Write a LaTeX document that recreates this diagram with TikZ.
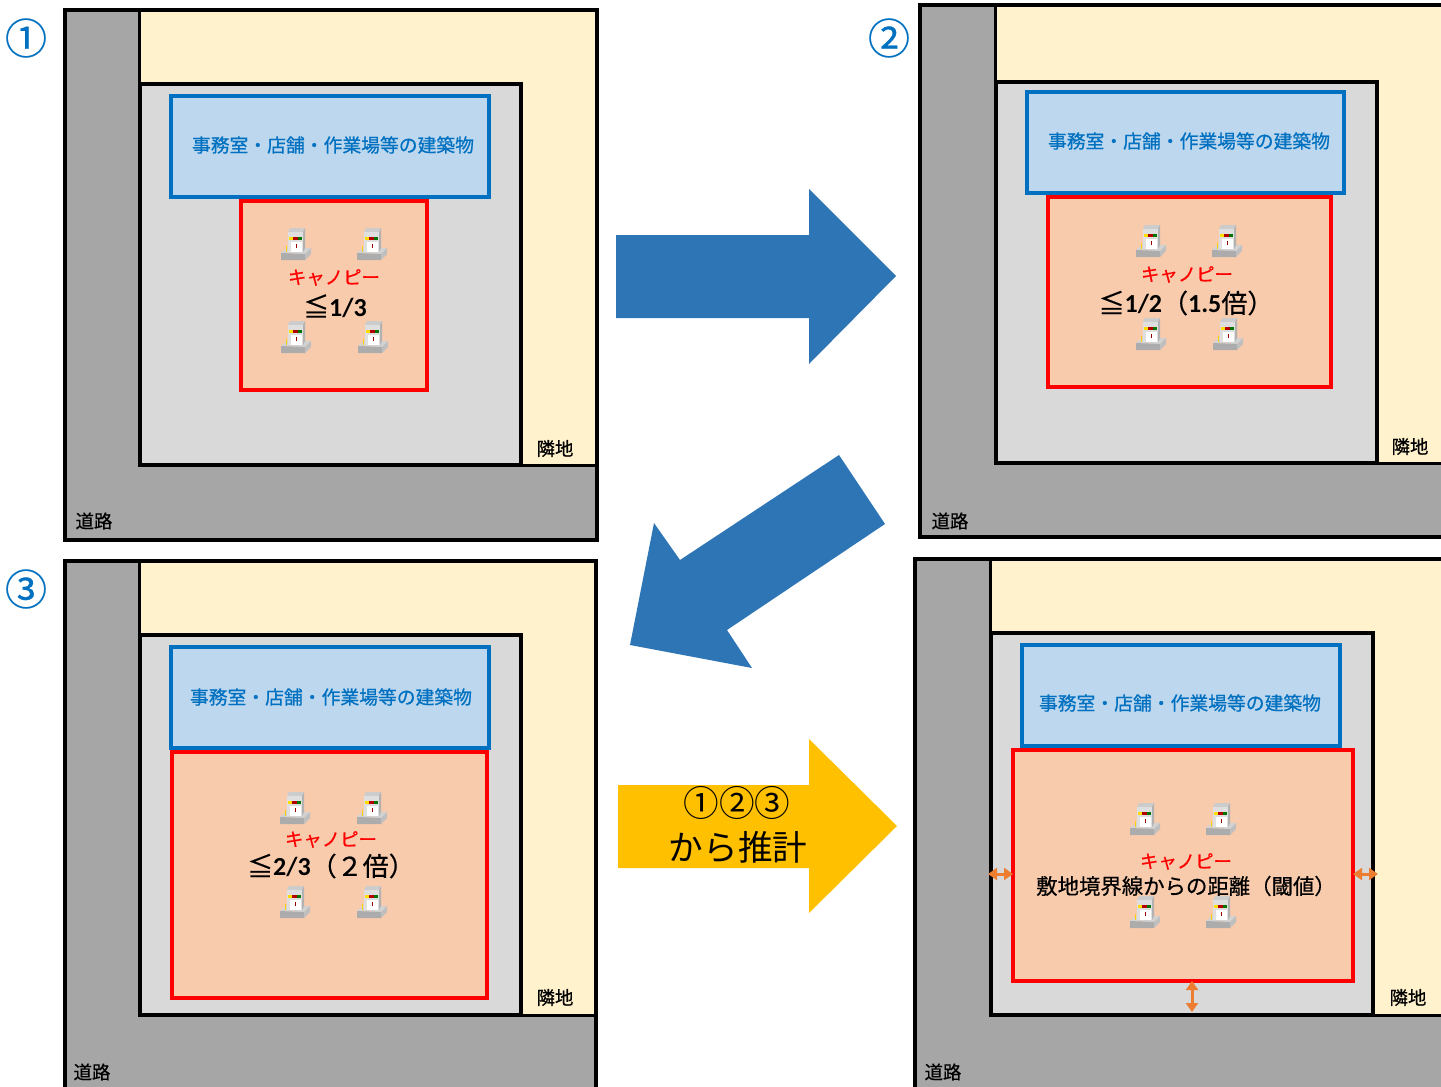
\documentclass[tikz,border=0pt]{standalone}
\usepackage{fontspec}
\setmainfont{Noto Sans CJK JP}
\newfontfamily\numfont{Carlito}
\newfontfamily\labelfont{Noto Sans CJK JP}[FakeBold=0.6]
\usepackage{xcolor}
\definecolor{roadColor}{RGB}{166,166,166}
\definecolor{nextColor}{RGB}{255,242,204}
\definecolor{siteColor}{RGB}{217,217,217}
\definecolor{bldColor}{RGB}{189,215,238}
\definecolor{bldLine}{RGB}{0,112,192}
\definecolor{canopyColor}{RGB}{248,203,173}
\definecolor{moveColor}{RGB}{46,117,182}
\definecolor{estColor}{RGB}{255,192,0}
\definecolor{gapColor}{RGB}{237,125,49}
\usetikzlibrary{arrows.meta}
\tikzset{
  road/.style={draw=black,line width=1.6pt,fill=roadColor},
  nextlot/.style={draw=black,line width=1.5pt,fill=nextColor},
  site/.style={draw=black,line width=1.7pt,fill=siteColor},
  bldbox/.style={draw=bldLine,line width=2pt,fill=bldColor},
  canopybox/.style={draw=red,line width=1.8pt,fill=canopyColor},
  bldtext/.style={text=bldLine,font=\labelfont\fontsize{9.4}{11}\selectfont,inner sep=0pt},
  canopytext/.style={text=red,font=\labelfont\fontsize{9.2}{11}\selectfont,inner sep=0pt},
  ratiotext/.style={text=black,font=\labelfont\fontsize{13}{15}\selectfont,inner sep=0pt},
  lottext/.style={text=black,font=\labelfont\fontsize{9.2}{11}\selectfont,inner sep=0pt},
  numtext/.style={text=bldLine,font=\labelfont\fontsize{21}{23}\selectfont,inner sep=0pt},
  gaparrow/.style={draw=gapColor,line width=1.5pt,{Triangle[width=6pt,length=4.5pt]}-{Triangle[width=6pt,length=4.5pt]}},
  pump/.pic={
    \fill[gray!35!white] (-15,9) -- (-8,3) -- (15,4) -- (9,10) -- cycle;
    \fill[gray!65!white] (-15,9) -- (9,10) -- (9,16) -- (-15,16) -- cycle;
    \fill[gray!50!white] (9,10) -- (15,4) -- (15,10) -- (9,16) -- cycle;
    \fill[gray!40!white] (-8,-12) -- (-6,-16) -- (9,-16) -- (7,-12) -- cycle;
    \fill[gray!60!white] (7,-12) -- (9,-16) -- (9,4) -- (7,8) -- cycle;
    \fill[gray!25!white] (-8,-12) rectangle (7,8);
    \fill[white] (-5,-2) rectangle (6,8);
    \fill[yellow!80!orange] (-7,-7) rectangle (-3,-4);
    \fill[red!70!black] (-3,-7) rectangle (2,-4);
    \fill[green!45!black] (2,-7) rectangle (6,-4);
    \fill[red!60!black] (0,0) rectangle (1,4);
    \fill[yellow!70!orange] (-10,2) rectangle (-9,8);
  }
}
\begin{document}
\begin{tikzpicture}[x=0.5pt,y=-0.5pt]
\useasboundingbox (0,0) rectangle (1441,1087);
% panel 1
\fill[road] (65,10) rectangle (597,540);
\fill[nextlot] (139,10) rectangle (597,465);
\draw[road,fill=none] (65,10) rectangle (597,540);
\draw[site] (140,84) rectangle (521,465);
\draw[bldbox] (171,96) rectangle (489,197);
\draw[canopybox] (241,201) rectangle (427,390);
\foreach \x/\y in {296/244,372/244,296/337,373/337}
  \pic at (\x,\y) {pump};
\node[bldtext] (bldA) at (333,145) {事務室・店舗・作業場等の建築物};
\node[canopytext] (canopyA) at (334,277.5) {キャノピー};
\node[ratiotext] (ratioA) at (335,306) {≦{\numfont\bfseries 1/3}};
\node[lottext] (nextA) at (555,448.5) {隣地};
\node[lottext] (roadA) at (94,521) {道路};
\node[numtext] (numA) at (26,38) {①};
% panel 2
\fill[road] (920,5) rectangle (1450,537);
\fill[nextlot] (995,5) rectangle (1450,463);
\draw[road,fill=none] (920,5) rectangle (1450,537);
\draw[site] (996,82) rectangle (1377,463);
\draw[bldbox] (1027,92) rectangle (1344,193);
\draw[canopybox] (1048,197) rectangle (1331,387);
\foreach \x/\y in {1151/241,1227/241,1151/334,1228/334}
  \pic at (\x,\y) {pump};
\node[bldtext] (bldB) at (1189,141) {事務室・店舗・作業場等の建築物};
\node[canopytext] (canopyB) at (1187,274.5) {キャノピー};
\node[ratiotext] (ratioB) at (1186,303) {≦{\numfont\bfseries 1/2}（{\numfont\bfseries 1.5}倍）};
\node[lottext] (nextB) at (1410,446.5) {隣地};
\node[lottext] (roadB) at (950,521) {道路};
\node[numtext] (numB) at (889,38) {②};
% panel 3
\fill[road] (65,561) rectangle (596,1095);
\fill[nextlot] (139,561) rectangle (596,1015);
\draw[road,fill=none] (65,561) rectangle (596,1095);
\draw[site] (140,635) rectangle (521,1015);
\draw[bldbox] (171,647) rectangle (489,748);
\draw[canopybox] (172,752) rectangle (487,998);
\foreach \x/\y in {295/808,372/808,295/902,372/902}
  \pic at (\x,\y) {pump};
\node[bldtext] (bldC) at (331,697) {事務室・店舗・作業場等の建築物};
\node[canopytext] (canopyC) at (331,839.5) {キャノピー};
\node[ratiotext] (ratioC) at (331,866) {≦{\numfont\bfseries 2/3}（２倍）};
\node[lottext] (nextC) at (555,997.5) {隣地};
\node[lottext] (roadC) at (92,1072) {道路};
\node[numtext] (numC) at (26,589) {③};
% panel 4
\fill[road] (915,559) rectangle (1450,1095);
\fill[nextlot] (990,559) rectangle (1450,1015);
\draw[road,fill=none] (915,559) rectangle (1450,1095);
\draw[site] (991,633) rectangle (1373,1015);
\draw[bldbox] (1022,645) rectangle (1340,746);
\draw[canopybox] (1013,750) rectangle (1353,981);
\foreach \x/\y in {1145/819,1221/819,1145/912,1221/912}
  \pic at (\x,\y) {pump};
\node[bldtext] (bldD) at (1180,703) {事務室・店舗・作業場等の建築物};
\node[canopytext] (canopyD) at (1186,861.5) {キャノピー};
\node[lottext,font=\labelfont\fontsize{10.7}{12}\selectfont] (limitD) at (1186,886) {敷地境界線からの距離（閾値）};
\node[lottext] (nextD) at (1408,997.5) {隣地};
\node[lottext] (roadD) at (943,1072) {道路};
\coordinate (gapLa) at (988,874);
\coordinate (gapLb) at (1013,874);
\coordinate (gapRa) at (1353,874);
\coordinate (gapRb) at (1378,874);
\coordinate (gapBa) at (1192,981);
\coordinate (gapBb) at (1192,1012);
\draw[gaparrow] (gapLa) -- (gapLb);
\draw[gaparrow] (gapRa) -- (gapRb);
\draw[gaparrow] (gapBa) -- (gapBb);
% arrows between the panels
\fill[moveColor] (616,235) -- (809,235) -- (809,189) -- (896,276) -- (809,364) -- (809,318) -- (616,318) -- cycle;
\fill[moveColor] (839,455) -- (885,524) -- (727,630) -- (752,668) -- (630,645) -- (654,523) -- (680,560) -- cycle;
\fill[estColor] (618,785) -- (809,785) -- (809,739) -- (897,826) -- (809,913) -- (809,868) -- (618,868) -- cycle;
\node[inner sep=0pt,font=\fontsize{17.8}{20}\selectfont] (estNum) at (737,803) {①②③};
\node[inner sep=0pt,font=\fontsize{17.3}{20}\selectfont] (estText) at (738,847) {から推計};
\end{tikzpicture}
\end{document}
